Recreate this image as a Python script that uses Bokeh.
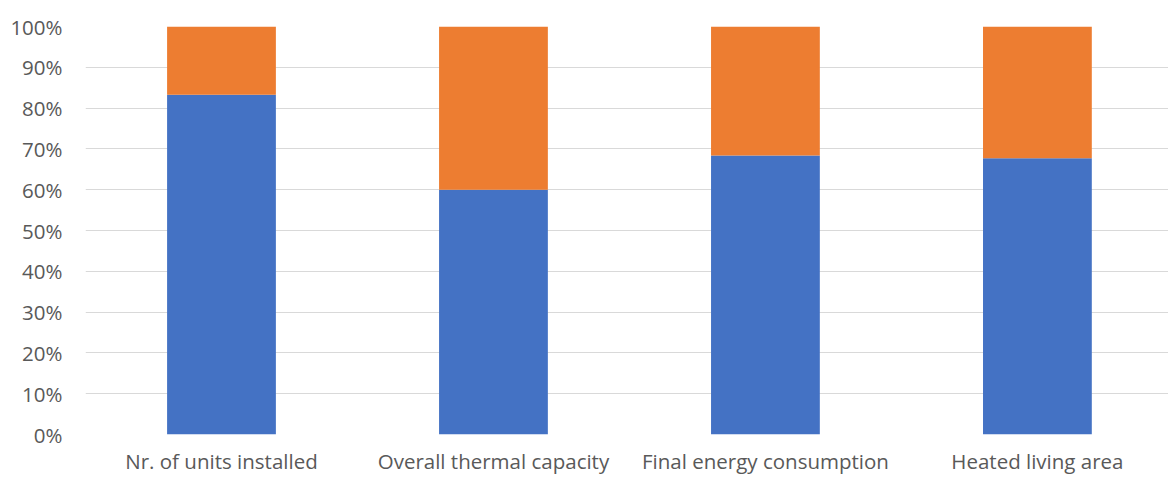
from bokeh.plotting import figure
from bokeh.models import Range1d, NumeralTickFormatter, FixedTicker
from bokeh.embed import file_html
from bokeh.resources import INLINE

categories = ["Nr. of units installed", "Overall thermal capacity",
              "Final energy consumption", "Heated living area"]
series_a = [0.833, 0.60, 0.684, 0.677]
series_b = [1 - v for v in series_a]
y_ticks = [i / 10 for i in range(11)]

xpos = [i + 0.5 for i in range(len(categories))]
source = dict(x=xpos, a=series_a, b=series_b)

p = figure(x_range=Range1d(0, 3.982), y_range=Range1d(0, 1),
           width=1168, height=477, output_backend="svg", toolbar_location=None,
           min_border_left=85, min_border_right=0, min_border_top=26,
           min_border_bottom=40)
p.vbar_stack(["a", "b"], x="x", width=0.4, source=source,
             color=["#4472C4", "#ED7D31"], line_color=None)

p.outline_line_color = None
p.xgrid.grid_line_color = None
p.ygrid.grid_line_color = "#d9d9d9"
p.ygrid.grid_line_width = 1
p.yaxis.ticker = FixedTicker(ticks=y_ticks)
p.yaxis.formatter = NumeralTickFormatter(format="0%")
p.xaxis.ticker = FixedTicker(ticks=xpos)
p.xaxis.major_label_overrides = {x: c for x, c in zip(xpos, categories)}
for ax in (p.xaxis[0], p.yaxis[0]):
    ax.axis_line_color = None
    ax.major_tick_line_color = None
    ax.minor_tick_line_color = None
    ax.major_label_text_color = "#595959"
    ax.major_label_text_font = "Open Sans"
    ax.major_label_text_font_size = "20.5px"
p.yaxis.major_label_standoff = 17
p.xaxis.major_label_standoff = 6

open("out.html", "w").write(file_html(p, INLINE))
